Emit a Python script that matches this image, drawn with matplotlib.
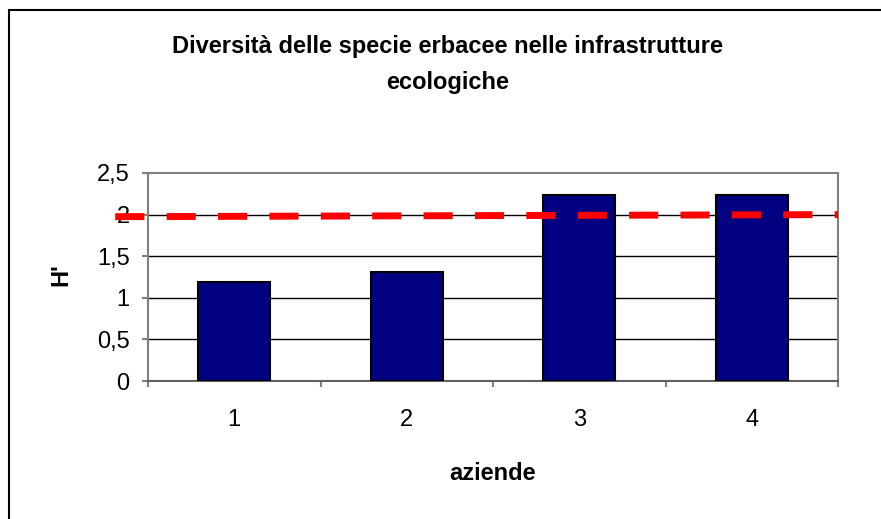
import matplotlib.pyplot as plt
from matplotlib.patches import Rectangle

# data
aziende = ["1", "2", "3", "4"]
h_values = [1.19, 1.31, 2.24, 2.24]
ref_line = [1.975, 2.0]  # red dashed line, left end / right end
y_ticks = [0, 0.5, 1, 1.5, 2, 2.5]
y_labels = ["0", "0,5", "1", "1,5", "2", "2,5"]

plt.rcParams['font.family'] = ['Liberation Sans', 'DejaVu Sans']

fig = plt.figure(figsize=(8.81, 5.19), dpi=100)
ax = fig.add_axes([148/881, 1-381/519, 690/881, 208/519])

x = range(len(aziende))
ax.bar(x, h_values, width=0.42, color="#000080", edgecolor="black", linewidth=1.5, zorder=3)

# gridlines
for t in y_ticks[1:-1]:
    ax.axhline(t, color="black", linewidth=1, zorder=1)

# red dashed reference line (starts left of the axis)
ax.plot([-0.69, 3.5], ref_line, color="red", linestyle=(0, (4.2, 3.2)), linewidth=5,
        solid_capstyle="butt", dash_capstyle="butt", clip_on=False, zorder=4)

ax.set_xlim(-0.5, 3.5)
ax.set_ylim(0, 2.5)
ax.set_yticks(y_ticks)
ax.set_yticklabels(y_labels, fontsize=17)
ax.set_xticks([-0.5, 0.5, 1.5, 2.5, 3.5])
ax.set_xticklabels([])
ax.set_xticks(list(x), minor=True)
ax.set_xticklabels(aziende, minor=True, fontsize=17)
ax.tick_params(axis="x", which="minor", length=0, pad=20)
ax.tick_params(axis="x", which="major", length=4.3, color="#808080", width=1.5)
ax.tick_params(axis="y", length=4.3, color="#808080", width=1.5, pad=9)

for side in ["top", "right", "left"]:
    ax.spines[side].set_color("#808080")
    ax.spines[side].set_linewidth(1.5)
ax.spines["bottom"].set_color("#606060")
ax.spines["bottom"].set_linewidth(1.5)

# axis titles
fig.text(493/881, 1-473/519, "aziende", ha="center", va="center",
         fontsize=17, fontweight="bold")
fig.text(61/881, 1-275/519, "H'", ha="center", va="center", rotation=90,
         fontsize=17, fontweight="bold")

# chart title
fig.text(448/881, 1-47/519, "Diversità delle specie erbacee nelle infrastrutture",
         ha="center", va="center", fontsize=17, fontweight="bold")
fig.text(448/881, 1-83/519, "ecologiche",
         ha="center", va="center", fontsize=17, fontweight="bold")

# chart border
fig.patches.append(Rectangle((9/881, -0.1), 1.0, 1-10/519+0.1, transform=fig.transFigure,
                             fill=False, edgecolor="black", linewidth=1.5))

fig.savefig("out.png", dpi=100)
